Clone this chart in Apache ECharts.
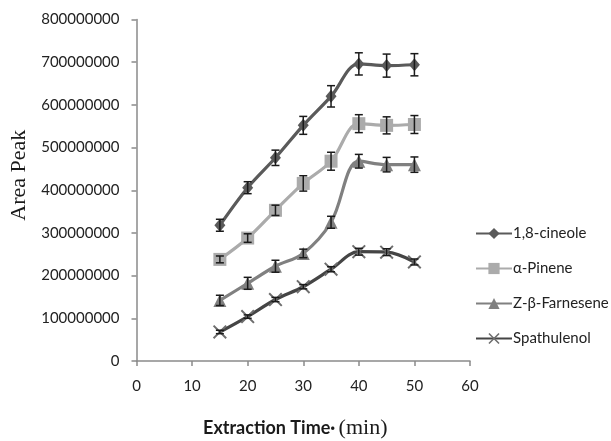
<!DOCTYPE html>
<html>
<head>
<meta charset="utf-8">
<script src="https://cdn.jsdelivr.net/npm/echarts@6/dist/echarts.min.js"></script>
<style>html,body{margin:0;padding:0;background:#fff}#c{width:611px;height:441px}</style>
</head>
<body>
<div id="c"></div>
<script>
const times = [15, 20, 25, 30, 35, 40, 45, 50];
const seriesNames = ['1,8-cineole', 'α-Pinene', 'Z-β-Farnesene', 'Spathulenol'];
const cineole = [318e6, 406e6, 476e6, 552e6, 620e6, 696e6, 692e6, 694e6];
const cineoleErr = [14e6, 14e6, 18e6, 21e6, 25e6, 26e6, 27e6, 26e6];
const pinene = [238e6, 288e6, 353e6, 416e6, 468e6, 556e6, 552e6, 554e6];
const pineneErr = [8e6, 10e6, 12e6, 18e6, 21e6, 21e6, 20e6, 21e6];
const farnesene = [142e6, 182e6, 222e6, 252e6, 325e6, 468e6, 460e6, 460e6];
const farneseneErr = [12e6, 14e6, 14e6, 10e6, 14e6, 16e6, 17e6, 18e6];
const spathulenol = [68e6, 104e6, 144e6, 174e6, 215e6, 256e6, 255e6, 232e6];
const spathulenolErr = [4e6, 4e6, 5e6, 5e6, 6e6, 8e6, 8e6, 7e6];
const yTicks = [0, 100000000, 200000000, 300000000, 400000000, 500000000, 600000000, 700000000, 800000000];
const xTicks = [0, 10, 20, 30, 40, 50, 60];

const values = [cineole, pinene, farnesene, spathulenol];
const errs = [cineoleErr, pineneErr, farneseneErr, spathulenolErr];
const colors = ['#5a5a5a', '#ababab', '#808080', '#454545'];
const symbols = ['diamond', 'rect', 'triangle',
  'path://M0,1L1,0L5,4L9,0L10,1L6,5L10,9L9,10L5,6L1,10L0,9L4,5Z'];
const symbolSizes = [[11, 13], 13, 13, 14];
const symbolColors = ['#5a5a5a', '#ababab', '#808080', '#6e6e6e'];

const series = [];
values.forEach((vals, i) => {
  series.push({
    name: seriesNames[i],
    type: 'line',
    smooth: 0.35,
    data: times.map((t, j) => [t, vals[j]]),
    symbol: symbols[i],
    symbolSize: symbolSizes[i],
    showAllSymbol: true,
    lineStyle: { color: colors[i], width: 3.2 },
    itemStyle: { color: symbolColors[i] },
    z: 2
  });
});
values.forEach((vals, i) => {
  series.push({
    type: 'custom',
    z: 5,
    silent: true,
    data: times.map((t, j) => [t, vals[j], errs[i][j]]),
    renderItem: function (params, api) {
      const x = api.value(0), v = api.value(1), e = api.value(2);
      const top = api.coord([x, v + e]);
      const bot = api.coord([x, v - e]);
      const hw = 4;
      const st = { stroke: '#1a1a1a', lineWidth: 1.5 };
      return {
        type: 'group',
        children: [
          { type: 'line', shape: { x1: top[0], y1: top[1], x2: bot[0], y2: bot[1] }, style: st },
          { type: 'line', shape: { x1: top[0] - hw, y1: top[1], x2: top[0] + hw, y2: top[1] }, style: st },
          { type: 'line', shape: { x1: bot[0] - hw, y1: bot[1], x2: bot[0] + hw, y2: bot[1] }, style: st }
        ]
      };
    }
  });
});

const chart = echarts.init(document.getElementById('c'), null, { renderer: 'canvas' });
chart.setOption({
  backgroundColor: '#fff',
  animation: false,
  grid: { left: 136.5, right: 141, top: 19.5, bottom: 80, containLabel: false, outerBoundsMode: 'none' },
  legend: {
    orient: 'vertical',
    left: 470,
    top: 221,
    itemWidth: 36,
    itemHeight: 14,
    itemGap: 20,
    data: seriesNames,
    textStyle: { fontFamily: 'Lato', fontSize: 15, color: '#222', padding: [0, 0, 0, -4] }
  },
  xAxis: {
    type: 'value',
    min: xTicks[0],
    max: xTicks[xTicks.length - 1],
    interval: 10,
    splitLine: { show: false },
    axisLine: { lineStyle: { color: '#8a8a8a', width: 1.5 } },
    axisTick: { show: true, length: 5, lineStyle: { color: '#8a8a8a', width: 1.5 } },
    axisLabel: { margin: 18, fontFamily: 'Lato', fontSize: 15, color: '#222' },
    name: '{a|Extraction Time·} {b|(min)}',
    nameLocation: 'middle',
    nameGap: 56,
    nameTextStyle: {
      padding: [0, 16, 0, 0],
      rich: {
        a: { fontFamily: 'Lato', fontWeight: 'bold', fontSize: 18, color: '#1a1a1a' },
        b: { fontFamily: 'Liberation Serif', fontSize: 22, color: '#1a1a1a' }
      }
    }
  },
  yAxis: {
    type: 'value',
    min: yTicks[0],
    max: yTicks[yTicks.length - 1],
    interval: 100000000,
    splitLine: { show: false },
    axisLine: { show: true, lineStyle: { color: '#8a8a8a', width: 1.5 } },
    axisTick: { show: true, length: 5, lineStyle: { color: '#8a8a8a', width: 1.5 } },
    axisLabel: { margin: 17, fontFamily: 'Lato', fontSize: 15, color: '#222', formatter: v => String(v) },
    name: 'Area Peak',
    nameLocation: 'middle',
    nameRotate: 90,
    nameGap: 104,
    nameTextStyle: { fontFamily: 'Liberation Serif', fontSize: 22, color: '#1a1a1a', padding: [0, 0, 0, 30] }
  },
  series: series
});
</script>
</body>
</html>
